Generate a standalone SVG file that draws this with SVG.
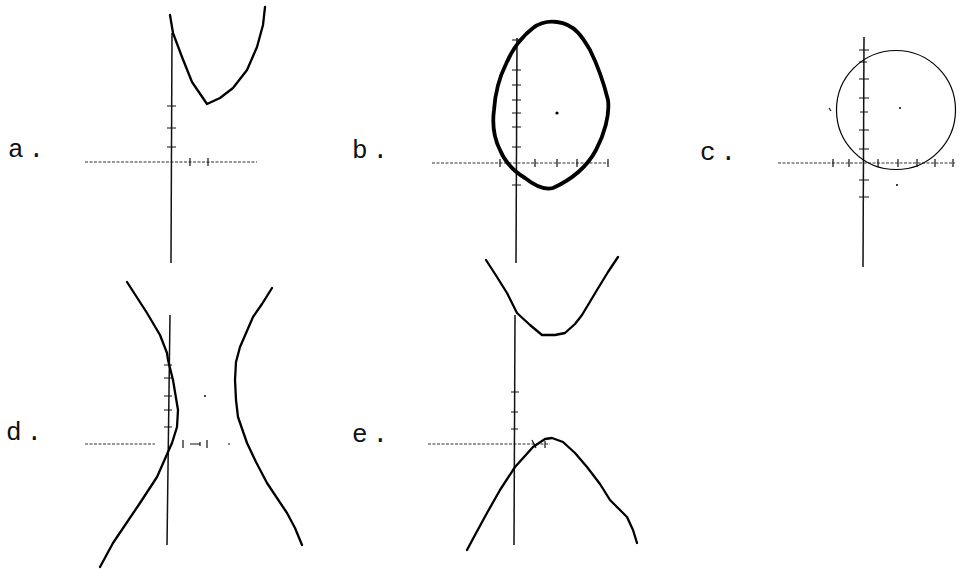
<svg xmlns="http://www.w3.org/2000/svg" width="959" height="574" viewBox="0 0 959 574">
<style>
.lbl{font-family:"Liberation Mono","DejaVu Sans Mono",monospace;font-size:26px;fill:#111;letter-spacing:5px}
.vax{stroke:#111;stroke-width:1.5;fill:none}
.hax{stroke:#333;stroke-width:1.2;fill:none;stroke-dasharray:3 1.5}
.tk{stroke:#111;stroke-width:1.2;fill:none}
.cv{stroke:#000;stroke-width:2.3;fill:none;stroke-linejoin:round;stroke-linecap:round}
.cvb{stroke:#000;stroke-width:3.8;fill:none;stroke-linejoin:round}
.cvc{stroke:#000;stroke-width:1.2;fill:none}
</style>
<rect width="959" height="574" fill="#fff"/>

<g id="panel-a">
<text class="lbl" x="8" y="157">a.</text>
<line class="hax" x1="85" y1="162" x2="257" y2="162"/>
<line class="vax" x1="172" y1="33" x2="171" y2="263"/>
<path class="tk" d="M167,106h9M167,128h9M167,147h9M190,158v8M208,158v8"/>
<polyline class="cv" points="170,15 173,33 182,57 192,82 207,104 220,98 233,88 247,70 257,47 263,25 265,7"/>
</g>

<g id="panel-b">
<text class="lbl" x="352" y="158">b.</text>
<line class="hax" x1="432" y1="163" x2="608" y2="163"/>
<path class="tk" d="M608,159v8"/>
<line class="vax" x1="517" y1="38" x2="516" y2="263"/>
<path class="tk" d="M512,40h9M512,70h9M512,85h9M512,100h9M512,113h9M512,127h9M512,147h9M512,185h9M500,159v8M535,159v8M557,159v8M577,159v8"/>
<path class="cvb" d="M557,22 C575,24 583,38 590,50 C598,66 603,80 608,100 C610,115 604,135 596,150 C588,165 575,178 553,188 C545,190 535,186 525,178 C515,172 505,162 500,150 C494,138 492,125 494,110 C495,95 499,78 506,64 C512,50 520,38 533,28 C541,22 549,21 557,22 Z"/>
<circle cx="557" cy="113" r="1.6" fill="#000"/>
</g>

<g id="panel-c">
<text class="lbl" x="700" y="160">c.</text>
<line class="hax" x1="778" y1="163" x2="955" y2="163"/>
<line class="vax" x1="864" y1="37" x2="863" y2="267"/>
<path class="tk" d="M859,50h10M859,62h8M859,79h10M859,98h10M860,112h8M859,130h10M859,149h10M859,180h10M859,197h10M833,159v8M849,159v8M878,159v8M898,159v8M917,159v8M935,159v8M953,159v8"/>
<circle class="cvc" cx="896" cy="110" r="59.5"/>
<circle cx="900" cy="108" r="1" fill="#000"/>
<path class="tk" d="M829,108l2,3"/>
<circle cx="897" cy="185" r="1" fill="#000"/>
</g>

<g id="panel-d">
<text class="lbl" x="6" y="440">d.</text>
<line class="hax" x1="85" y1="444" x2="155" y2="444"/>
<path class="tk" d="M183,440v8M200,442v4M207,440v8M190,444h10M228,444h2"/>
<line class="vax" x1="170" y1="315" x2="167" y2="545"/>
<path class="tk" d="M164,365h8M164,378h8M164,396h8M164,410h8M164,427h8"/>
<polyline class="cv" points="127,282 147,313 160,335 167,353 168,360 173,380 178,410 177,427 172,443 168,452 157,477 140,503 113,543 100,567"/>
<polyline class="cv" points="272,288 262,304 253,317 240,347 236,362 235,380 236,400 238,417 247,443 256,462 267,483 287,513 295,528 302,545"/>
<circle cx="205" cy="396" r="1" fill="#000"/>
</g>

<g id="panel-e">
<text class="lbl" x="352" y="442">e.</text>
<line class="hax" x1="428" y1="444" x2="550" y2="444"/>
<line class="vax" x1="515" y1="315" x2="514" y2="545"/>
<path class="tk" d="M511,392h8M511,412h7M511,429h7M532,440l4,8M545,441v7"/>
<polyline class="cv" points="486,260 497,277 507,293 517,313 530,325 542,335 555,335 565,333 575,324 582,315 597,290 608,272 618,257"/>
<polyline class="cv" points="467,550 475,535 487,513 500,490 515,467 533,447 545,439 552,438 563,442 575,453 587,467 600,484 610,500 620,510 627,517 633,530 637,543"/>
</g>
</svg>
